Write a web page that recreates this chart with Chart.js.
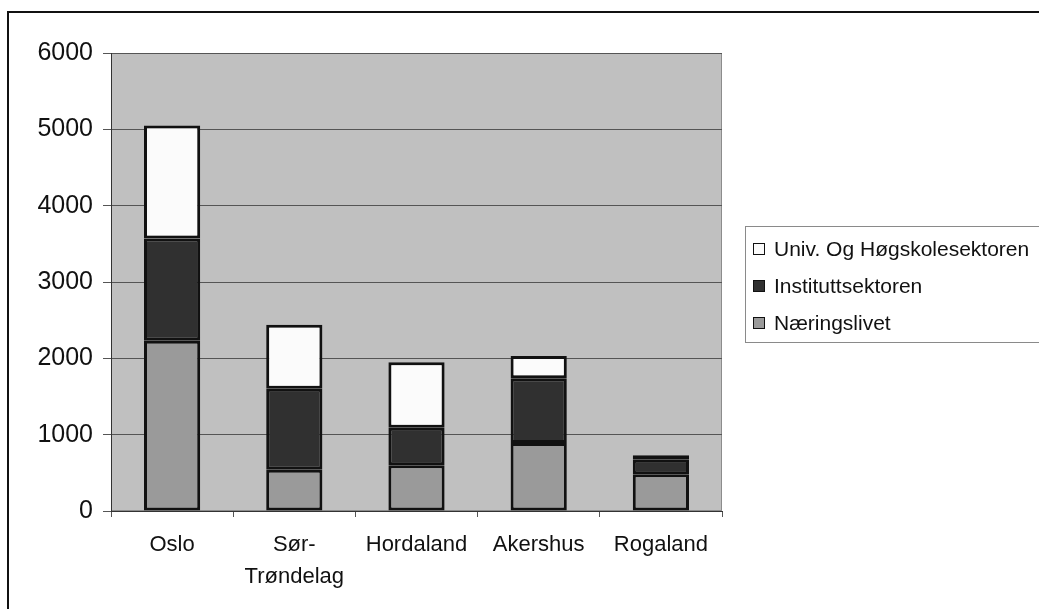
<!DOCTYPE html>
<html>
<head>
<meta charset="utf-8">
<script src="https://cdn.jsdelivr.net/npm/chart.js@4/dist/chart.umd.min.js"></script>
<style>
    html, body { margin: 0; padding: 0; background: #fff; }
    #wrap { position: relative; width: 1039px; height: 609px; overflow: hidden; }
    #frame {
        position: absolute; left: 7px; top: 11px; width: 1100px; height: 700px;
        border: 2px solid #111; box-sizing: border-box;
    }
    #chartBox { position: absolute; left: 0; top: 0; width: 1039px; height: 609px; }
    #legend {
        position: absolute; left: 745px; top: 226px; width: 320px; height: 117px;
        border: 1px solid #8a8a8a; box-sizing: border-box; padding-top: 3px;
        font-family: "Liberation Sans", Arial, sans-serif; font-size: 21px; color: #111;
    }
    .item { height: 37px; display: flex; align-items: center; padding-left: 7px; }
    .swatch { width: 12px; height: 12px; border: 1px solid #111; margin-right: 9px; box-sizing: border-box; }
</style>
</head>
<body>
<div id="wrap">
    <div id="frame"></div>
    <div id="chartBox"><canvas id="chart" width="1039" height="609"></canvas></div>
    <div id="legend"></div>
</div>
<script>
// ============================================================================
//  DATEN
// ============================================================================
const categories = [["Oslo"], ["Sør-", "Trøndelag"], "Hordaland", "Akershus", "Rogaland"];
const seriesNames = ["Næringslivet", "Instituttsektoren", "Univ. Og Høgskolesektoren"];
const naeringslivet = [2230, 540, 600, 890, 480];
const instituttsektoren = [1340, 1060, 490, 850, 190];
const univHogskole = [1480, 840, 860, 290, 60];
const yTicks = [0, 1000, 2000, 3000, 4000, 5000, 6000];

const FONT = "'Liberation Sans', Arial, sans-serif";

// ============================================================================
//  PLOT-HINTERGRUND
// ============================================================================
const plotBg = {
    id: "plotBg",
    beforeDraw(chart) {
        const a = chart.chartArea;
        const ctx = chart.ctx;
        ctx.save();
        ctx.fillStyle = "#c0c0c0";
        ctx.fillRect(a.left, a.top, a.right - a.left, a.bottom - a.top);
        ctx.strokeStyle = "#8c8c8c";
        ctx.lineWidth = 1;
        ctx.strokeRect(a.left + 0.5, a.top + 0.5, a.right - a.left - 1, a.bottom - a.top - 1);
        ctx.restore();
    }
};

const chart = new Chart(document.getElementById("chart"), {
    type: "bar",
    data: {
        labels: categories,
        datasets: [
            { label: seriesNames[0], data: naeringslivet, backgroundColor: "#9a9a9a" },
            { label: seriesNames[1], data: instituttsektoren, backgroundColor: "#303030" },
            { label: seriesNames[2], data: univHogskole, backgroundColor: "#fbfbfb" }
        ].map(d => Object.assign(d, {
            borderColor: "#111",
            borderWidth: 3,
            borderSkipped: false,
            barPercentage: 0.46,
            categoryPercentage: 1
        }))
    },
    options: {
        responsive: false,
        animation: false,
        layout: { padding: { left: 0, top: 53, right: 317, bottom: 0 } },
        plugins: { legend: { display: false }, tooltip: { enabled: false } },
        scales: {
            x: {
                stacked: true,
                grid: { offset: true, drawOnChartArea: false, drawTicks: true, tickLength: 6, color: "#555" },
                border: { display: true, color: "#333", width: 1 },
                ticks: { color: "#111", padding: 12, font: { family: FONT, size: 22, lineHeight: 1.45 }, maxRotation: 0 },
                afterFit(scale) { scale.height = 98; }
            },
            y: {
                stacked: true,
                min: yTicks[0],
                max: yTicks[yTicks.length - 1],
                afterBuildTicks(scale) { scale.ticks = yTicks.map(v => ({ value: v })); },
                grid: { color: "#555", lineWidth: 1, drawTicks: true, tickLength: 8 },
                border: { display: true, color: "#333", width: 1 },
                ticks: {
                    color: "#111", padding: 10, font: { family: FONT, size: 25 },
                    callback: v => String(v)
                },
                afterFit(scale) { scale.width = 111; }
            }
        }
    },
    plugins: [plotBg]
});

// ============================================================================
//  LEGENDE (HTML, umgekehrte Reihenfolge wie Excel)
// ============================================================================
const legend = document.getElementById("legend");
chart.data.datasets.slice().reverse().forEach(ds => {
    legend.innerHTML += `<div class="item"><span class="swatch" style="background:${ds.backgroundColor}"></span>${ds.label}</div>`;
});
</script>
</body>
</html>
